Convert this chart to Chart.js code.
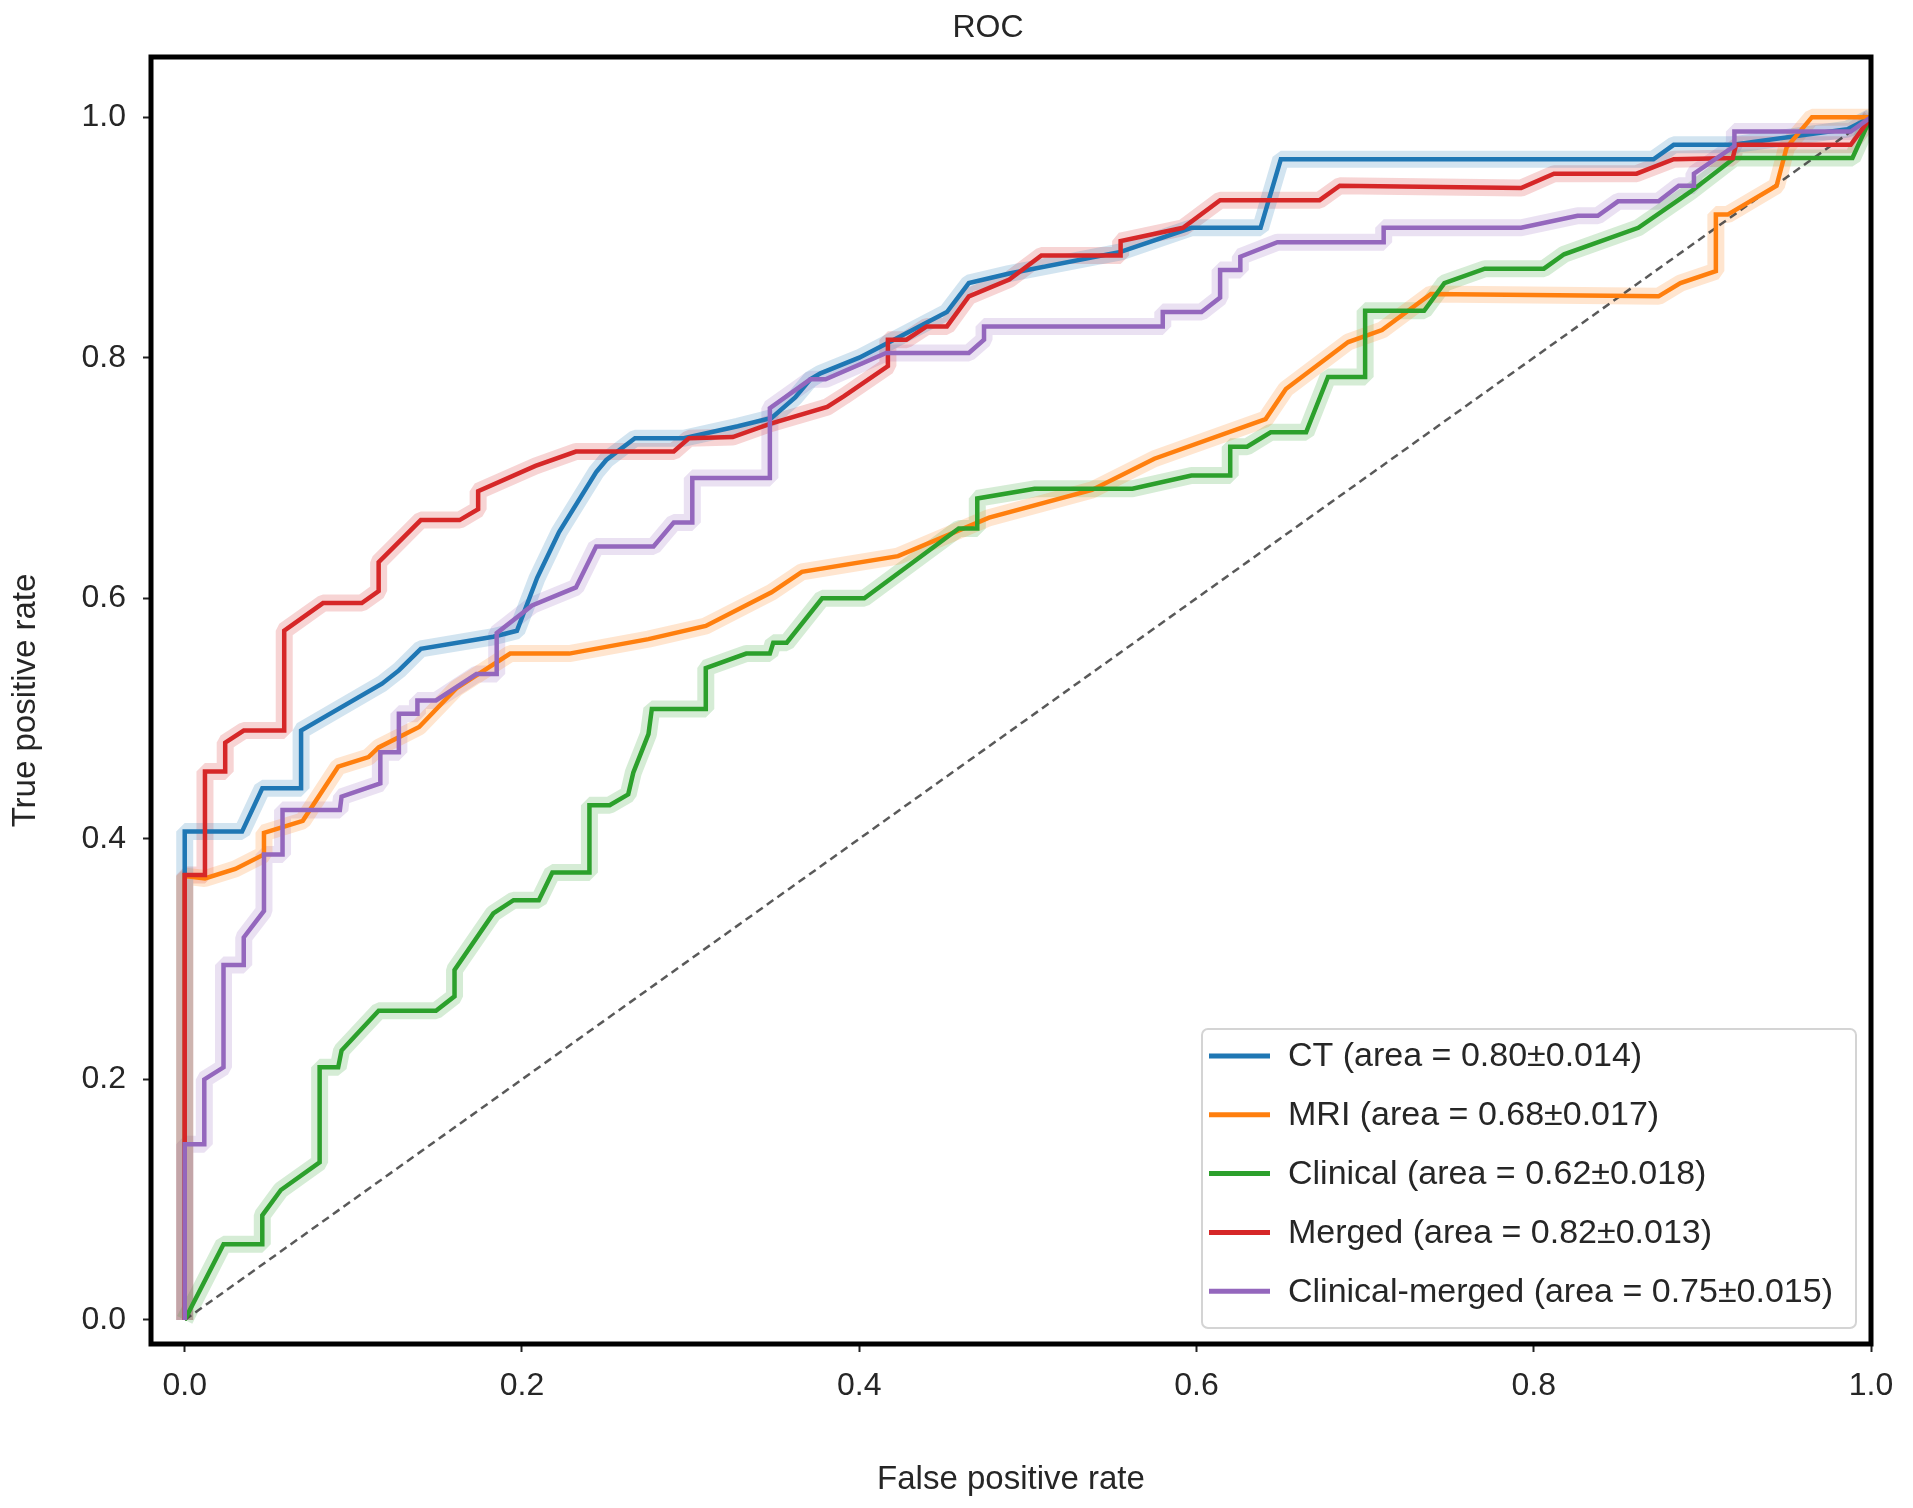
<!DOCTYPE html>
<html>
<head>
<meta charset="utf-8">
<title>ROC</title>
<script src="https://cdn.jsdelivr.net/npm/chart.js@4.4.1/dist/chart.umd.min.js"></script>
<style>
  html, body { margin: 0; padding: 0; background: #fff; }
  #wrap { width: 1913px; height: 1508px; }
</style>
</head>
<body>
<div id="wrap"><canvas id="rocChart" width="1913" height="1508"></canvas></div>
<script>
// Mean ROC curves (false positive rate / true positive rate)
const ctFpr = [0, 0, 0.034, 0.046, 0.069, 0.069, 0.117, 0.127, 0.14, 0.183, 0.197, 0.209, 0.222, 0.244, 0.25, 0.267, 0.296, 0.328, 0.348, 0.362, 0.371, 0.377, 0.40, 0.418, 0.452, 0.465, 0.489, 0.555, 0.597, 0.638, 0.65, 0.871, 0.883, 0.918, 0.986, 1.0];
const ctTpr = [0, 0.406, 0.406, 0.442, 0.442, 0.49, 0.529, 0.54, 0.558, 0.568, 0.573, 0.617, 0.655, 0.705, 0.715, 0.733, 0.733, 0.743, 0.75, 0.767, 0.782, 0.787, 0.80, 0.813, 0.838, 0.862, 0.87, 0.888, 0.908, 0.908, 0.965, 0.965, 0.977, 0.977, 0.99, 1.0];

const mriFpr = [0, 0, 0.012, 0.03, 0.047, 0.047, 0.07, 0.091, 0.109, 0.115, 0.139, 0.161, 0.193, 0.228, 0.275, 0.309, 0.348, 0.366, 0.423, 0.477, 0.538, 0.575, 0.641, 0.653, 0.69, 0.71, 0.739, 0.874, 0.887, 0.908, 0.908, 0.915, 0.944, 0.95, 0.965, 1.0];
const mriTpr = [0, 0.369, 0.367, 0.375, 0.387, 0.405, 0.415, 0.46, 0.468, 0.476, 0.493, 0.525, 0.554, 0.554, 0.566, 0.577, 0.605, 0.622, 0.635, 0.667, 0.69, 0.716, 0.749, 0.774, 0.813, 0.823, 0.853, 0.851, 0.862, 0.872, 0.919, 0.919, 0.943, 0.975, 1.0, 1.0];

const clinicalFpr = [0, 0.023, 0.046, 0.046, 0.057, 0.08, 0.08, 0.091, 0.093, 0.115, 0.149, 0.16, 0.16, 0.183, 0.195, 0.21, 0.218, 0.24, 0.24, 0.252, 0.263, 0.266, 0.275, 0.277, 0.309, 0.309, 0.333, 0.347, 0.349, 0.357, 0.378, 0.403, 0.459, 0.47, 0.47, 0.504, 0.562, 0.597, 0.62, 0.62, 0.63, 0.644, 0.665, 0.678, 0.70, 0.70, 0.735, 0.747, 0.771, 0.806, 0.818, 0.862, 0.893, 0.919, 0.989, 1.0];
const clinicalTpr = [0, 0.063, 0.063, 0.087, 0.108, 0.131, 0.21, 0.21, 0.224, 0.257, 0.257, 0.269, 0.291, 0.338, 0.349, 0.349, 0.372, 0.372, 0.428, 0.428, 0.437, 0.455, 0.487, 0.508, 0.508, 0.542, 0.554, 0.554, 0.563, 0.563, 0.60, 0.60, 0.658, 0.658, 0.683, 0.691, 0.691, 0.702, 0.702, 0.726, 0.726, 0.738, 0.738, 0.784, 0.784, 0.839, 0.839, 0.862, 0.874, 0.874, 0.886, 0.908, 0.938, 0.966, 0.966, 1.0];

const mergedFpr = [0, 0, 0.012, 0.012, 0.024, 0.024, 0.035, 0.059, 0.059, 0.082, 0.105, 0.115, 0.115, 0.14, 0.163, 0.174, 0.174, 0.208, 0.232, 0.29, 0.299, 0.325, 0.347, 0.381, 0.391, 0.417, 0.417, 0.428, 0.44, 0.452, 0.465, 0.489, 0.508, 0.555, 0.555, 0.592, 0.614, 0.673, 0.685, 0.7925, 0.812, 0.861, 0.883, 0.918, 0.92, 0.988, 1.0];
const mergedTpr = [0, 0.37, 0.37, 0.456, 0.456, 0.48, 0.49, 0.49, 0.573, 0.596, 0.596, 0.606, 0.63, 0.665, 0.665, 0.674, 0.689, 0.71, 0.722, 0.722, 0.733, 0.734, 0.745, 0.759, 0.768, 0.793, 0.815, 0.815, 0.826, 0.826, 0.851, 0.865, 0.885, 0.885, 0.897, 0.908, 0.931, 0.931, 0.943, 0.941, 0.953, 0.953, 0.965, 0.966, 0.977, 0.977, 1.0];

const clinMergedFpr = [0, 0, 0.0116, 0.0116, 0.023, 0.023, 0.035, 0.035, 0.047, 0.047, 0.058, 0.058, 0.092, 0.093, 0.116, 0.116, 0.127, 0.127, 0.138, 0.138, 0.149, 0.173, 0.185, 0.185, 0.206, 0.232, 0.244, 0.278, 0.29, 0.301, 0.301, 0.347, 0.347, 0.371, 0.38, 0.416, 0.465, 0.474, 0.474, 0.58, 0.58, 0.603, 0.614, 0.614, 0.626, 0.626, 0.648, 0.711, 0.711, 0.7925, 0.826, 0.838, 0.85, 0.874, 0.886, 0.895, 0.895, 0.919, 0.919, 0.988, 1.0];
const clinMergedTpr = [0, 0.146, 0.146, 0.20, 0.21, 0.295, 0.295, 0.318, 0.34, 0.387, 0.387, 0.424, 0.424, 0.435, 0.446, 0.472, 0.472, 0.504, 0.504, 0.515, 0.515, 0.537, 0.537, 0.571, 0.594, 0.609, 0.643, 0.643, 0.663, 0.663, 0.70, 0.70, 0.758, 0.782, 0.782, 0.804, 0.804, 0.815, 0.826, 0.826, 0.838, 0.838, 0.85, 0.873, 0.873, 0.884, 0.896, 0.896, 0.908, 0.908, 0.918, 0.918, 0.93, 0.93, 0.943, 0.943, 0.953, 0.976, 0.988, 0.988, 1.0];

// Chance line
const chanceFpr = [0, 1];
const chanceTpr = [0, 1];

const seriesLabels = [
  "CT (area = 0.80\u00b10.014)",
  "MRI (area = 0.68\u00b10.017)",
  "Clinical (area = 0.62\u00b10.018)",
  "Merged (area = 0.82\u00b10.013)",
  "Clinical-merged (area = 0.75\u00b10.015)"
];
const seriesColors = ["31,119,180", "255,127,14", "44,160,44", "214,39,40", "148,103,189"];
const seriesFpr = [ctFpr, mriFpr, clinicalFpr, mergedFpr, clinMergedFpr];
const seriesTpr = [ctTpr, mriTpr, clinicalTpr, mergedTpr, clinMergedTpr];

const tickValues = [0, 0.2, 0.4, 0.6, 0.8, 1.0];
const chartTitle = "ROC";

const FONT = "'Liberation Sans', Arial, Helvetica, sans-serif";
const TEXT_COLOR = "#262626";

function toPoints(xs, ys) {
  return xs.map((x, i) => ({ x: x, y: ys[i] }));
}

// Build datasets: a wide translucent stroke for the spread band, then the mean line
const datasets = [];
seriesLabels.forEach((label, i) => {
  const pts = toPoints(seriesFpr[i], seriesTpr[i]);
  datasets.push({
    data: pts,
    borderColor: `rgba(${seriesColors[i]},0.2)`,
    borderWidth: 17,
    borderJoinStyle: 'bevel',
    pointRadius: 0,
    tension: 0,
    fill: false,
    order: 20 + i
  });
  datasets.push({
    data: pts,
    legendLabel: label,
    borderColor: `rgb(${seriesColors[i]})`,
    borderWidth: 4.5,
    borderJoinStyle: 'miter',
    pointRadius: 0,
    tension: 0,
    fill: false,
    order: 10 - i
  });
});
datasets.push({
  data: toPoints(chanceFpr, chanceTpr),
  borderColor: 'rgba(60,60,60,0.85)',
  borderWidth: 2.5,
  borderDash: [8, 5],
  pointRadius: 0,
  fill: false,
  order: 15
});

// Full black frame round the plot area, title above it
const axesFrame = {
  id: 'axesFrame',
  afterDraw(chart) {
    const { ctx, chartArea: a } = chart;
    ctx.save();
    ctx.lineWidth = 5;
    ctx.strokeStyle = '#000';
    ctx.strokeRect(a.left, a.top, a.right - a.left, a.bottom - a.top);
    ctx.font = `32px ${FONT}`;
    ctx.fillStyle = TEXT_COLOR;
    ctx.textAlign = 'center';
    ctx.textBaseline = 'alphabetic';
    ctx.fillText(chartTitle, a.left + 837, a.top - 20);
    ctx.restore();
  }
};

// Legend box inside the lower right corner of the plot
const insetLegend = {
  id: 'insetLegend',
  afterDraw(chart) {
    const { ctx, chartArea: a } = chart;
    const items = chart.data.datasets.filter(d => d.legendLabel);
    const boxW = 654, boxH = 299;
    const right = a.right - 15, bottom = a.bottom - 16;
    const left = right - boxW, top = bottom - boxH;
    ctx.save();
    ctx.beginPath();
    ctx.roundRect(left, top, boxW, boxH, 6);
    ctx.fillStyle = 'rgba(255,255,255,0.85)';
    ctx.fill();
    ctx.lineWidth = 2;
    ctx.strokeStyle = '#d4d4d4';
    ctx.stroke();

    ctx.font = `34px ${FONT}`;
    ctx.textBaseline = 'middle';
    ctx.textAlign = 'left';
    items.forEach((d, i) => {
      const y = top + 27 + i * 58.8;
      ctx.beginPath();
      ctx.moveTo(left + 7, y);
      ctx.lineTo(left + 68, y);
      ctx.lineWidth = 5;
      ctx.strokeStyle = d.borderColor;
      ctx.stroke();
      ctx.fillStyle = TEXT_COLOR;
      ctx.fillText(d.legendLabel, left + 86, y + 1);
    });
    ctx.restore();
  }
};

function fixedTicks(scale) {
  scale.ticks = tickValues.map(v => ({ value: v }));
}

const axisTicks = {
  font: { family: FONT, size: 32 },
  color: TEXT_COLOR,
  maxRotation: 0,
  autoSkip: false,
  callback: v => Number(v).toFixed(1)
};

new Chart(document.getElementById('rocChart'), {
  type: 'line',
  data: { datasets: datasets },
  plugins: [axesFrame, insetLegend],
  options: {
    responsive: false,
    devicePixelRatio: 1,
    animation: false,
    events: [],
    layout: { padding: { left: 0, right: 42, top: 57, bottom: 0 } },
    plugins: {
      legend: { display: false },
      tooltip: { enabled: false },
      title: { display: false }
    },
    scales: {
      x: {
        type: 'linear',
        min: -0.02,
        max: 1.0,
        afterBuildTicks: fixedTicks,
        afterFit: s => { s.height = 164; },
        ticks: Object.assign({ padding: 15 }, axisTicks),
        grid: { drawOnChartArea: false, drawTicks: true, tickLength: 8, tickWidth: 2, tickColor: '#222' },
        border: { display: false },
        title: {
          display: true,
          text: 'False positive rate',
          color: TEXT_COLOR,
          font: { family: FONT, size: 33 },
          padding: { top: 0, bottom: 8 }
        }
      },
      y: {
        type: 'linear',
        min: -0.02,
        max: 1.05,
        afterBuildTicks: fixedTicks,
        afterFit: s => { s.width = 151; },
        ticks: Object.assign({ padding: 17 }, axisTicks),
        grid: { drawOnChartArea: false, drawTicks: true, tickLength: 8, tickWidth: 2, tickColor: '#222' },
        border: { display: false },
        title: {
          display: true,
          text: 'True positive rate',
          color: TEXT_COLOR,
          font: { family: FONT, size: 33 },
          padding: { top: 6, bottom: 0 }
        }
      }
    }
  }
});
</script>
</body>
</html>
